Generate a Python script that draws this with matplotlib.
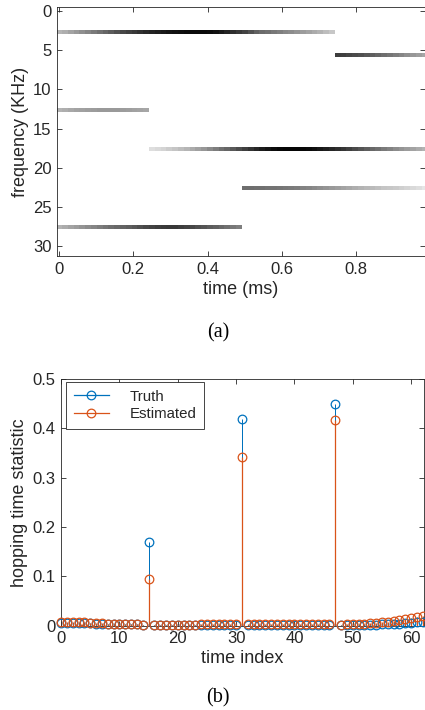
import numpy as np
import matplotlib
matplotlib.use("Agg")
import matplotlib.pyplot as plt
from matplotlib.lines import Line2D
from matplotlib.legend_handler import HandlerLine2D

plt.rcParams['font.family'] = ['Liberation Sans', 'DejaVu Sans']

# ---------------- data: (a) time-frequency map ----------------
n_time = 64
time_ms = np.arange(n_time) / 64.0
freq_step = 0.5          # KHz per row
freq_first = 0.1         # centre of first row (KHz)
n_freq = 64

tone_freqs = [2.6, 5.6, 12.6, 17.6, 22.6, 27.6]          # KHz
tone_start = [0, 48, 0, 16, 32, 0]                        # time index
tone_level_1 = [0.29, 0.32, 0.36, 0.40, 0.44, 0.48, 0.52, 0.56, 0.60, 0.64,
                0.68, 0.72, 0.75, 0.78, 0.81, 0.84, 0.86, 0.88, 0.90, 0.92,
                0.93, 0.94, 0.95, 0.96, 0.96, 0.96, 0.95, 0.93, 0.90, 0.86,
                0.82, 0.78, 0.74, 0.68, 0.62, 0.58, 0.56, 0.53, 0.50, 0.47,
                0.45, 0.42, 0.39, 0.36, 0.33, 0.30, 0.26, 0.22]
tone_level_2 = [0.76, 0.75, 0.73, 0.71, 0.69, 0.66, 0.63, 0.60, 0.57, 0.54,
                0.51, 0.48, 0.44, 0.41, 0.38, 0.35]
tone_level_3 = [0.30, 0.32, 0.34, 0.36, 0.37, 0.38, 0.39, 0.40, 0.40, 0.40,
                0.40, 0.39, 0.38, 0.37, 0.36, 0.35]
tone_level_4 = [0.13, 0.15, 0.17, 0.20, 0.23, 0.26, 0.29, 0.33, 0.37, 0.41,
                0.46, 0.51, 0.56, 0.60, 0.65, 0.70, 0.75, 0.80, 0.85, 0.89,
                0.92, 0.95, 0.97, 0.98, 0.98, 0.98, 0.97, 0.96, 0.94, 0.91,
                0.88, 0.85, 0.82, 0.79, 0.75, 0.71, 0.67, 0.63, 0.59, 0.56,
                0.52, 0.49, 0.45, 0.42, 0.39, 0.36, 0.33, 0.30]
tone_level_5 = [0.57, 0.57, 0.56, 0.56, 0.55, 0.55, 0.54, 0.53, 0.52, 0.51,
                0.49, 0.48, 0.46, 0.44, 0.42, 0.40, 0.38, 0.36, 0.34, 0.32,
                0.30, 0.28, 0.27, 0.25, 0.23, 0.22, 0.21, 0.19, 0.17, 0.15,
                0.13, 0.10]
tone_level_6 = [0.30, 0.33, 0.36, 0.39, 0.42, 0.45, 0.48, 0.51, 0.54, 0.57,
                0.59, 0.61, 0.63, 0.66, 0.69, 0.72, 0.74, 0.76, 0.77, 0.78,
                0.78, 0.76, 0.74, 0.72, 0.69, 0.67, 0.64, 0.62, 0.59, 0.56,
                0.53, 0.50]
tone_levels = [tone_level_1, tone_level_2, tone_level_3,
               tone_level_4, tone_level_5, tone_level_6]

# ---------------- data: (b) hopping time statistic ----------------
time_index = np.arange(64)
truth = [0.0060, 0.0058, 0.0055, 0.0050, 0.0048, 0.0045, 0.0040, 0.0036,
         0.0032, 0.0030, 0.0027, 0.0025, 0.0023, 0.0021, 0.0020, 0.1700,
         0.0018, 0.0018, 0.0018, 0.0018, 0.0018, 0.0018, 0.0018, 0.0018,
         0.0018, 0.0018, 0.0018, 0.0018, 0.0018, 0.0018, 0.0018, 0.4180,
         0.0018, 0.0018, 0.0018, 0.0018, 0.0018, 0.0018, 0.0018, 0.0018,
         0.0018, 0.0018, 0.0018, 0.0018, 0.0018, 0.0018, 0.0018, 0.4500,
         0.0012, 0.0012, 0.0013, 0.0014, 0.0015, 0.0017, 0.0019, 0.0022,
         0.0026, 0.0030, 0.0035, 0.0041, 0.0050, 0.0062, 0.0078, 0.0090]
estimated = [0.0078, 0.0076, 0.0072, 0.0068, 0.0064, 0.0058, 0.0052, 0.0046,
             0.0040, 0.0036, 0.0032, 0.0028, 0.0025, 0.0022, 0.0020, 0.0950,
             0.0020, 0.0020, 0.0020, 0.0020, 0.0020, 0.0020, 0.0020, 0.0020,
             0.0022, 0.0022, 0.0022, 0.0022, 0.0022, 0.0022, 0.0022, 0.3420,
             0.0022, 0.0022, 0.0021, 0.0021, 0.0021, 0.0021, 0.0021, 0.0021,
             0.0021, 0.0021, 0.0021, 0.0021, 0.0021, 0.0021, 0.0021, 0.4160,
             0.0020, 0.0022, 0.0025, 0.0030, 0.0036, 0.0043, 0.0052, 0.0062,
             0.0074, 0.0088, 0.0104, 0.0122, 0.0142, 0.0164, 0.0190, 0.0220]

series_names = ['Truth', 'Estimated']
series_colors = ['#0072BD', '#D95319']

# ---------------- figure ----------------
W, H = 425, 710
fig = plt.figure(figsize=(W / 100, H / 100), dpi=100)
axis_col = '#262626'
fs_tick = 12
fs_label = 13
fs_legend = 10.8


def style_axes(ax):
    for s in ax.spines.values():
        s.set_color(axis_col)
        s.set_linewidth(0.6)
    ax.tick_params(direction='in', length=3.5, width=0.6, colors=axis_col,
                   labelcolor=axis_col, labelsize=fs_tick,
                   top=True, right=True, pad=4)


# ---- (a) ----
ax1 = fig.add_axes([57 / W, 1 - 256 / H, (425 - 57) / W, (256 - 7) / H])
S = np.zeros((n_freq, n_time))
for f, start, lev in zip(tone_freqs, tone_start, tone_levels):
    row = int(round((f - freq_first) / freq_step))
    S[row, start:start + len(lev)] = lev
t_edges = (np.arange(n_time + 1) - 0.5) / 64.0
f_edges = freq_first + (np.arange(n_freq + 1) - 0.5) * freq_step
ax1.pcolormesh(t_edges, f_edges, S, cmap='gray_r', vmin=0, vmax=1,
               shading='flat')
ax1.set_xlim(-0.0055, 0.985)
ax1.set_ylim(31.3, -0.55)
ax1.set_xticks([0, 0.2, 0.4, 0.6, 0.8])
ax1.set_xticklabels(['0', '0.2', '0.4', '0.6', '0.8'])
ax1.set_yticks([0, 5, 10, 15, 20, 25, 30])
style_axes(ax1)
ax1.set_xlabel('time (ms)', fontsize=fs_label, color=axis_col, labelpad=3)
ax1.set_ylabel('frequency (KHz)', fontsize=fs_label, color=axis_col,
               labelpad=3)
fig.text(218 / W, 1 - 333 / H, '(a)', ha='center', va='center',
         fontsize=14.5, family='Liberation Serif')

# ---- (b) ----
ax2 = fig.add_axes([61 / W, 1 - 625.5 / H, (424 - 61) / W, (625.5 - 379) / H])
for vals, name, col, lw in zip([truth, estimated], series_names,
                               series_colors, [0.72, 0.9]):
    stems = ax2.vlines(time_index, 0, vals, colors=col, linewidth=lw,
                       zorder=2)
    stems.set_snap(True)
    ax2.plot(time_index, vals, linestyle='none', marker='o',
             markersize=6.2, markerfacecolor='none', markeredgecolor=col,
             markeredgewidth=0.9, clip_on=False, zorder=3)
ax2.set_xlim(0, 62.2)
ax2.set_ylim(0, 0.5)
ax2.set_xticks([0, 10, 20, 30, 40, 50, 60])
ax2.set_yticks([0, 0.1, 0.2, 0.3, 0.4, 0.5])
ax2.set_yticklabels(['0', '0.1', '0.2', '0.3', '0.4', '0.5'])
style_axes(ax2)
ax2.set_xlabel('time index', fontsize=fs_label, color=axis_col, labelpad=3)
ax2.set_ylabel('hopping time statistic', fontsize=fs_label, color=axis_col,
               labelpad=3)


class EndMarkerHandler(HandlerLine2D):
    def get_xdata(self, legend, xdescent, ydescent, width, height, fontsize):
        xdata = np.array([-xdescent, width - xdescent])
        return xdata, np.array([width - xdescent])


handles = [Line2D([0], [0], color=c, linewidth=0.9, marker='o',
                  markersize=6.2, markerfacecolor='none',
                  markeredgecolor=c, markeredgewidth=0.9)
           for c in series_colors]
leg = ax2.legend(handles, series_names, loc='upper left',
                 bbox_to_anchor=(5 / 363, 1 - 3 / 246.5),
                 borderaxespad=0, fontsize=fs_legend, frameon=True,
                 fancybox=False, framealpha=1, handlelength=2.35,
                 handletextpad=1.4, borderpad=0.5, labelspacing=0.25,
                 numpoints=1,
                 handler_map={Line2D: EndMarkerHandler()})
leg.get_frame().set_edgecolor(axis_col)
leg.get_frame().set_linewidth(0.6)
for t in leg.get_texts():
    t.set_color(axis_col)

fig.text(218 / W, 1 - 698 / H, '(b)', ha='center', va='center',
         fontsize=14.5, family='Liberation Serif')

fig.savefig('out.png', dpi=100, facecolor='white')
